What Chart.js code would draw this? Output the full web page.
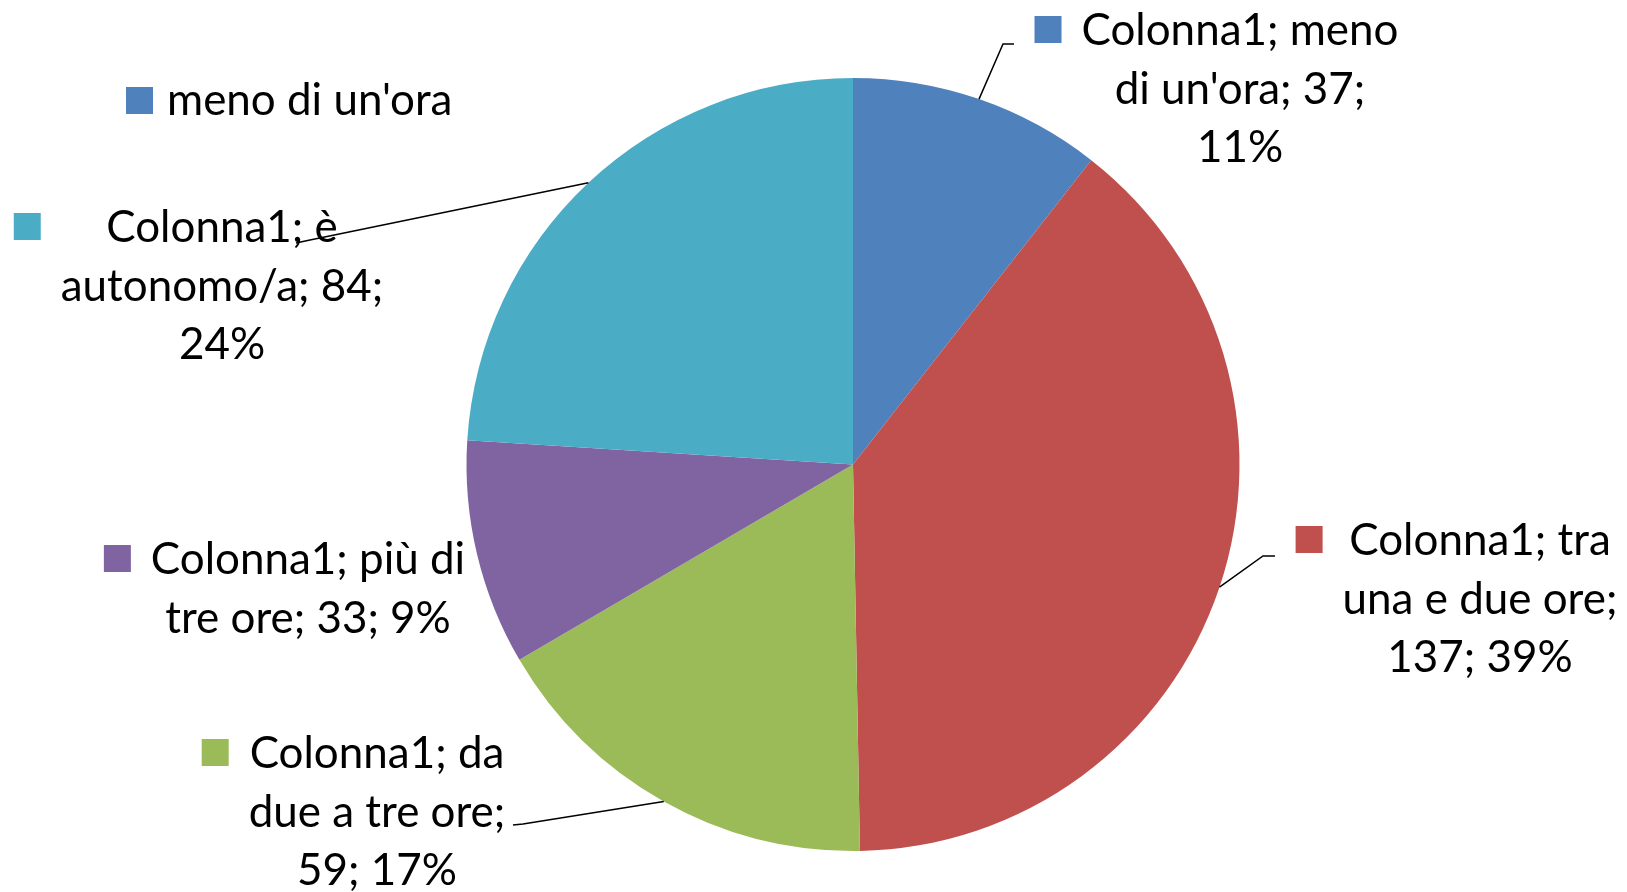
<!DOCTYPE html>
<html>
<head>
<meta charset="utf-8">
<script src="https://cdn.jsdelivr.net/npm/chart.js@4.4.1/dist/chart.umd.min.js"></script>
<style>
  html, body { margin: 0; padding: 0; background: #fff; }
  #wrap { width: 1627px; height: 892px; }
</style>
</head>
<body>
<div id="wrap"><canvas id="torta" width="1627" height="892"></canvas></div>
<script>
var serie = 'Colonna1';
var categorie = ["meno di un'ora", 'tra una e due ore', 'da due a tre ore', 'più di tre ore', 'è autonomo/a'];
var valori = [37, 137, 59, 33, 84];
var colori = ['#4F81BD', '#C0504D', '#9BBB59', '#8064A2', '#4BACC6'];

var FONT = 'Lato, "Liberation Sans", sans-serif';

// blocchi di etichetta: centro, prima linea di base, larghezza max, linea guida (gomito, fine)
var etichette = [
  { cx: 1240, y: 45, maxW: 332, guida: [[1003, 44], [1014, 44]] },
  { cx: 1480, y: 555, maxW: 292, guida: [[1263, 556], [1275, 556]] },
  { cx: 377, y: 768, maxW: 278, guida: [[523, 824], [513, 825]] },
  { cx: 308, y: 574, maxW: 322, guida: null },
  { cx: 222, y: 242, maxW: 338, guida: [[310, 240], [296, 243]] }
];
var INTERLINEA = 58.5;

function aCapo(ctx, testo, maxW) {
  var parole = testo.split(' ');
  var righe = [];
  var riga = '';
  parole.forEach(function (p) {
    var prova = riga ? riga + ' ' + p : p;
    if (riga && ctx.measureText(prova).width > maxW) {
      righe.push(riga);
      riga = p;
    } else {
      riga = prova;
    }
  });
  if (riga) righe.push(riga);
  return righe;
}

var etichettePlugin = {
  id: 'etichette',
  afterDraw: function (chart) {
    var ctx = chart.ctx;
    var meta = chart.getDatasetMeta(0);
    var totale = valori.reduce(function (a, b) { return a + b; }, 0);

    ctx.save();
    // dimensione del carattere scelta per avere la stessa larghezza del riferimento
    ctx.font = '47px ' + FONT;
    var size = 47 * 317 / ctx.measureText('Colonna1; meno').width;
    ctx.font = size + 'px ' + FONT;
    ctx.fillStyle = '#000';
    ctx.textBaseline = 'alphabetic';

    // legenda (solo la prima voce)
    ctx.fillStyle = colori[0];
    ctx.fillRect(126, 87, 27, 27);
    ctx.fillStyle = '#000';
    ctx.textAlign = 'left';
    ctx.fillText(categorie[0], 167, 115);

    meta.data.forEach(function (arc, i) {
      var e = etichette[i];
      var pct = Math.round(valori[i] / totale * 100);
      var testo = serie + '; ' + categorie[i] + '; ' + valori[i] + '; ' + pct + '%';
      var righe = aCapo(ctx, testo, e.maxW);
      var larghezza = Math.max.apply(null, righe.map(function (r) { return ctx.measureText(r).width; }));

      ctx.textAlign = 'center';
      ctx.fillStyle = '#000';
      righe.forEach(function (r, k) {
        ctx.fillText(r, e.cx, e.y + k * INTERLINEA);
      });

      // chiave colorata a sinistra del blocco
      ctx.fillStyle = colori[i];
      ctx.fillRect(e.cx - larghezza / 2 - 20 - 27, e.y - 29, 27, 27);

      if (e.guida) {
        var p = arc.getProps(['x', 'y', 'startAngle', 'endAngle', 'outerRadius'], true);
        var medio = (p.startAngle + p.endAngle) / 2;
        ctx.beginPath();
        ctx.moveTo(p.x + Math.cos(medio) * p.outerRadius, p.y + Math.sin(medio) * p.outerRadius);
        ctx.lineTo(e.guida[0][0], e.guida[0][1]);
        ctx.lineTo(e.guida[1][0], e.guida[1][1]);
        ctx.strokeStyle = '#000';
        ctx.lineWidth = 1.5;
        ctx.stroke();
      }
    });
    ctx.restore();
  }
};

new Chart(document.getElementById('torta'), {
  type: 'pie',
  data: {
    labels: categorie,
    datasets: [{
      label: serie,
      data: valori,
      backgroundColor: colori,
      borderWidth: 0
    }]
  },
  options: {
    responsive: false,
    animation: false,
    layout: { padding: { top: 78, bottom: 41, left: 79, right: 0 } },
    plugins: {
      legend: { display: false },
      tooltip: { enabled: false }
    }
  },
  plugins: [etichettePlugin]
});
</script>
</body>
</html>
